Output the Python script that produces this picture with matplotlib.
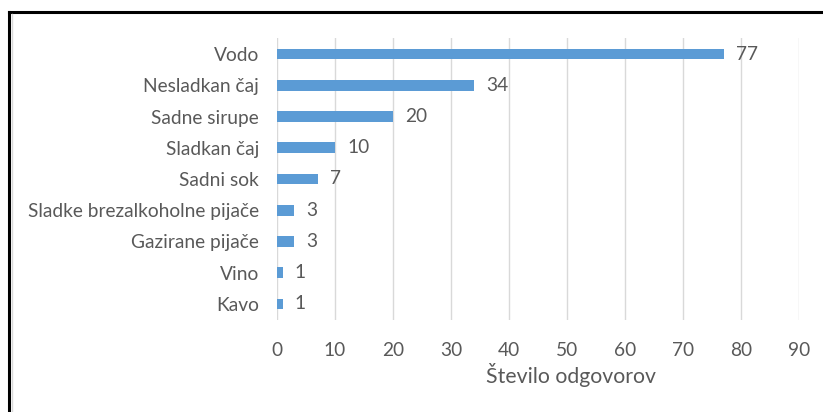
import matplotlib
matplotlib.use("Agg")
import matplotlib.pyplot as plt
from matplotlib.lines import Line2D

categories = ["Vodo", "Nesladkan čaj", "Sadne sirupe", "Sladkan čaj", "Sadni sok",
              "Sladke brezalkoholne pijače", "Gazirane pijače", "Vino", "Kavo"]
values = [77, 34, 20, 10, 7, 3, 3, 1, 1]
xticks = [0, 10, 20, 30, 40, 50, 60, 70, 80, 90]
xlabel = "Število odgovorov"

plt.rcParams['font.family'] = ['Lato', 'DejaVu Sans']
txt = '#595959'
fs = 13.8

fig = plt.figure(figsize=(8.23, 4.12), dpi=100)
W, H = 823, 412
ax = fig.add_axes([277 / W, 1 - 319.6 / H, (799 - 277) / W, (319.6 - 38.4) / H])

y = list(range(len(categories)))
ax.barh(y, values, height=0.34, color='#5B9BD5', zorder=3)
ax.set_ylim(len(categories) - 0.5, -0.5)
ax.set_xlim(0, 90)
ax.set_yticks(y)
ax.set_yticklabels(categories, fontsize=fs, color=txt)
ax.set_xticks(xticks)
ax.set_xticklabels([str(t) for t in xticks], fontsize=fs, color=txt)
ax.tick_params(axis='y', length=0, pad=13)
ax.tick_params(axis='x', length=0, pad=16)
ax.xaxis.grid(True, color='#D9D9D9', linewidth=1, zorder=0)
for s in ax.spines.values():
    s.set_visible(False)
ax.set_xlabel(xlabel, fontsize=15.3, color=txt, labelpad=6)
ax.xaxis.set_label_coords((571 - 277) / (799 - 277), -0.155)
ax.xaxis.label.set_va('top')

for yi, v in zip(y, values):
    ax.annotate(str(v), (v, yi), xytext=(12, 0), textcoords='offset pixels',
                va='center', ha='left', fontsize=fs, color=txt)

fig.add_artist(Line2D([9 / W, 1], [1 - 12 / H, 1 - 12 / H], color='black', linewidth=2.2))
fig.add_artist(Line2D([9 / W, 9 / W], [1 - 12 / H, 0], color='black', linewidth=2.2))
fig.add_artist(Line2D([12 / W, 12 / W], [1 - 14 / H, 0], color='#D9D9D9', linewidth=1))

fig.savefig('out.png', dpi=100)
